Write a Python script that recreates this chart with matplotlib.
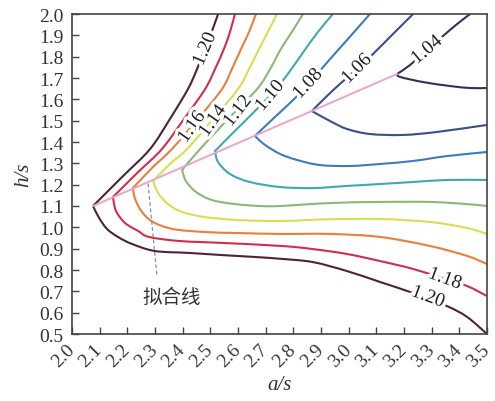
import matplotlib
matplotlib.use("Agg")
import matplotlib.pyplot as plt
import matplotlib.patheffects as pe
from matplotlib.path import Path
from matplotlib.patches import PathPatch

# ---------------- data ----------------
levels = ["1.04", "1.06", "1.08", "1.10", "1.12", "1.14", "1.16", "1.18", "1.20"]
colors = ["#32305e", "#3a4d8f", "#3c7cb8", "#3eaab0", "#8ab878",
          "#dcdc50", "#ee7d3a", "#d22e4c", "#4e2434"]

# upper branch: from kink (on fitted line) up to top edge
up_x = {
    "1.20": [2.076, 2.181, 2.282, 2.354, 2.419, 2.452, 2.481, 2.506, 2.528],
    "1.18": [2.148, 2.239, 2.325, 2.405, 2.481, 2.517, 2.549, 2.571, 2.589],
    "1.16": [2.220, 2.289, 2.361, 2.455, 2.542, 2.578, 2.611, 2.640, 2.665],
    "1.14": [2.293, 2.354, 2.416, 2.510, 2.600, 2.640, 2.676, 2.708, 2.741],
    "1.12": [2.398, 2.463, 2.564, 2.669, 2.716, 2.755, 2.795, 2.835],
    "1.10": [2.517, 2.589, 2.661, 2.737, 2.788, 2.839, 2.889, 2.943],
    "1.08": [2.661, 2.726, 2.788, 2.846, 2.914, 2.994, 3.077],
    "1.06": [2.867, 2.922, 2.976, 3.030, 3.088, 3.160, 3.233],
    "1.04": [3.175, 3.222, 3.283, 3.341, 3.392, 3.439],
}
up_y = {
    "1.20": [1.100, 1.236, 1.367, 1.508, 1.648, 1.742, 1.836, 1.920, 2.000],
    "1.18": [1.142, 1.259, 1.367, 1.508, 1.648, 1.742, 1.836, 1.916, 2.000],
    "1.16": [1.184, 1.278, 1.367, 1.508, 1.648, 1.742, 1.836, 1.916, 2.000],
    "1.14": [1.217, 1.297, 1.367, 1.508, 1.648, 1.742, 1.836, 1.916, 2.000],
    "1.12": [1.269, 1.367, 1.508, 1.648, 1.742, 1.836, 1.916, 2.000],
    "1.10": [1.358, 1.452, 1.545, 1.648, 1.733, 1.827, 1.916, 2.000],
    "1.08": [1.428, 1.508, 1.583, 1.658, 1.761, 1.878, 2.000],
    "1.06": [1.545, 1.616, 1.681, 1.742, 1.8125, 1.906, 2.000],
    "1.04": [1.719, 1.761, 1.831, 1.897, 1.953, 2.000],
}
# lower branch: from kink to right edge
lo_x = {
    "1.20": [2.076, 2.098, 2.127, 2.166, 2.217, 2.300, 2.423, 2.542, 2.661,
             2.759, 2.871, 2.994, 3.113, 3.233, 3.355, 3.428, 3.500],
    "1.18": [2.148, 2.159, 2.192, 2.239, 2.278, 2.387, 2.542, 2.759, 2.871,
             2.994, 3.113, 3.233, 3.348, 3.428, 3.500],
    "1.16": [2.220, 2.228, 2.253, 2.293, 2.365, 2.481, 2.607, 2.759, 2.933,
             3.113, 3.294, 3.428, 3.500],
    "1.14": [2.293, 2.311, 2.347, 2.398, 2.481, 2.604, 2.759, 2.933, 3.113,
             3.294, 3.428, 3.500],
    "1.12": [2.398, 2.412, 2.448, 2.506, 2.589, 2.680, 2.752, 2.933, 3.113,
             3.294, 3.428, 3.500],
    "1.10": [2.517, 2.528, 2.571, 2.643, 2.752, 2.871, 2.994, 3.113, 3.233,
             3.355, 3.500],
    "1.08": [2.661, 2.698, 2.752, 2.813, 2.896, 3.005, 3.113, 3.233, 3.355, 3.500],
    "1.06": [2.867, 2.933, 2.994, 3.077, 3.196, 3.319, 3.500],
    "1.04": [3.175, 3.186, 3.269, 3.366, 3.439, 3.500],
}
lo_y = {
    "1.20": [1.100, 1.044, 0.992, 0.955, 0.922, 0.889, 0.880, 0.870, 0.861,
             0.852, 0.837, 0.795, 0.744, 0.692, 0.631, 0.580, 0.500],
    "1.18": [1.142, 1.077, 1.020, 0.983, 0.955, 0.936, 0.927, 0.9125, 0.898,
             0.875, 0.842, 0.805, 0.758, 0.725, 0.678],
    "1.16": [1.184, 1.133, 1.072, 1.025, 0.992, 0.978, 0.973, 0.969, 0.969,
             0.955, 0.9125, 0.866, 0.828],
    "1.14": [1.217, 1.161, 1.109, 1.072, 1.048, 1.034, 1.030, 1.038, 1.039,
             1.025, 0.997, 0.969],
    "1.12": [1.269, 1.217, 1.166, 1.128, 1.109, 1.100, 1.100, 1.114, 1.119,
             1.119, 1.109, 1.100],
    "1.10": [1.358, 1.306, 1.250, 1.2125, 1.189, 1.184, 1.194, 1.203, 1.2125,
             1.222, 1.222],
    "1.08": [1.428, 1.386, 1.344, 1.316, 1.292, 1.2875, 1.297, 1.311, 1.334, 1.353],
    "1.06": [1.545, 1.498, 1.461, 1.4375, 1.433, 1.447, 1.480],
    "1.04": [1.719, 1.705, 1.681, 1.6625, 1.653, 1.653],
}

# fitted line through the kinks
fit_x = [2.076, 3.175]
fit_y = [1.100, 1.719]

# contour labels: (text, x, y, rotation)
label_text = ["1.20", "1.16", "1.14", "1.12", "1.10", "1.08", "1.06", "1.04", "1.18", "1.20"]
label_x = [2.481, 2.434, 2.510, 2.600, 2.716, 2.853, 3.030, 3.283, 3.348, 3.287]
label_y = [1.836, 1.470, 1.498, 1.545, 1.616, 1.672, 1.742, 1.831, 0.758, 0.673]
label_rot = [67, 55, 55, 52, 50, 47, 45, 40, -20, -20]

# annotation "拟合线"
note_text = "拟合线"
note_xy = (2.361, 0.678)
leader_x = [2.275, 2.307]
leader_y = [1.205, 0.772]

xticks = [round(2.0 + 0.1 * i, 1) for i in range(16)]
yticks = [round(0.5 + 0.1 * i, 1) for i in range(16)]


def smooth_path(xs, ys):
    """Catmull-Rom curve through the given points, as cubic Bezier segments."""
    pts = list(zip(xs, ys))
    n = len(pts)
    verts = [pts[0]]
    codes = [Path.MOVETO]
    for i in range(n - 1):
        p0 = pts[i - 1] if i > 0 else pts[i]
        p1 = pts[i]
        p2 = pts[i + 1]
        p3 = pts[i + 2] if i + 2 < n else pts[i + 1]
        c1 = (p1[0] + (p2[0] - p0[0]) / 6, p1[1] + (p2[1] - p0[1]) / 6)
        c2 = (p2[0] - (p3[0] - p1[0]) / 6, p2[1] - (p3[1] - p1[1]) / 6)
        verts += [c1, c2, p2]
        codes += [Path.CURVE4, Path.CURVE4, Path.CURVE4]
    return Path(verts, codes)


# ---------------- plotting ----------------
plt.rcParams['font.family'] = ['Liberation Serif', 'DejaVu Serif']
fig = plt.figure(figsize=(4.95, 4.02), dpi=100)
ax = fig.add_axes([72 / 495, 1 - 335 / 402, (487 - 72) / 495, (335 - 15) / 402])

for lev, col in zip(levels, colors):
    for xs, ys in ((up_x[lev], up_y[lev]), (lo_x[lev], lo_y[lev])):
        ax.add_patch(PathPatch(smooth_path(xs, ys), fill=False, edgecolor=col,
                               lw=1.5, capstyle='round', joinstyle='round', zorder=2))

ax.plot(fit_x, fit_y, color="#eaa6c6", lw=1.4, zorder=3)

for t, x, y, r in zip(label_text, label_x, label_y, label_rot):
    ax.text(x, y, t, rotation=r, rotation_mode='anchor', ha='center', va='center',
            fontsize=14, color='#222222', zorder=5,
            path_effects=[pe.withStroke(linewidth=5, foreground='white')])

ax.plot(leader_x, leader_y, color="#7d93ad", lw=0.9, ls=(0, (3, 2)), zorder=4)
ax.text(note_xy[0], note_xy[1], note_text, ha='center', va='center', fontsize=14,
        color='#333333', family=['Noto Sans CJK SC', 'DejaVu Sans'], zorder=5)

ax.set_xlim(2.0, 3.5)
ax.set_ylim(0.5, 2.0)
ax.set_xticks(xticks)
ax.set_yticks(yticks)
ax.set_xticklabels([f"{v:.1f}" for v in xticks], rotation=45, ha='right',
                   va='center', rotation_mode='anchor')
ax.set_yticklabels([f"{v:.1f}" for v in yticks])
ax.tick_params(axis='both', direction='in', length=5, width=1, color='#444444',
               labelsize=14, labelcolor='#333333', top=False, right=False)
ax.tick_params(axis='y', pad=6)
ax.tick_params(axis='x', pad=9)
for s in ax.spines.values():
    s.set_color('#444444')
    s.set_linewidth(1.2)

ax.set_xlabel("a/s", fontsize=15, style='italic', color='#333333', labelpad=4)
ax.set_ylabel("h/s", fontsize=15, style='italic', color='#333333', labelpad=4)

fig.savefig("out.png", dpi=100)
